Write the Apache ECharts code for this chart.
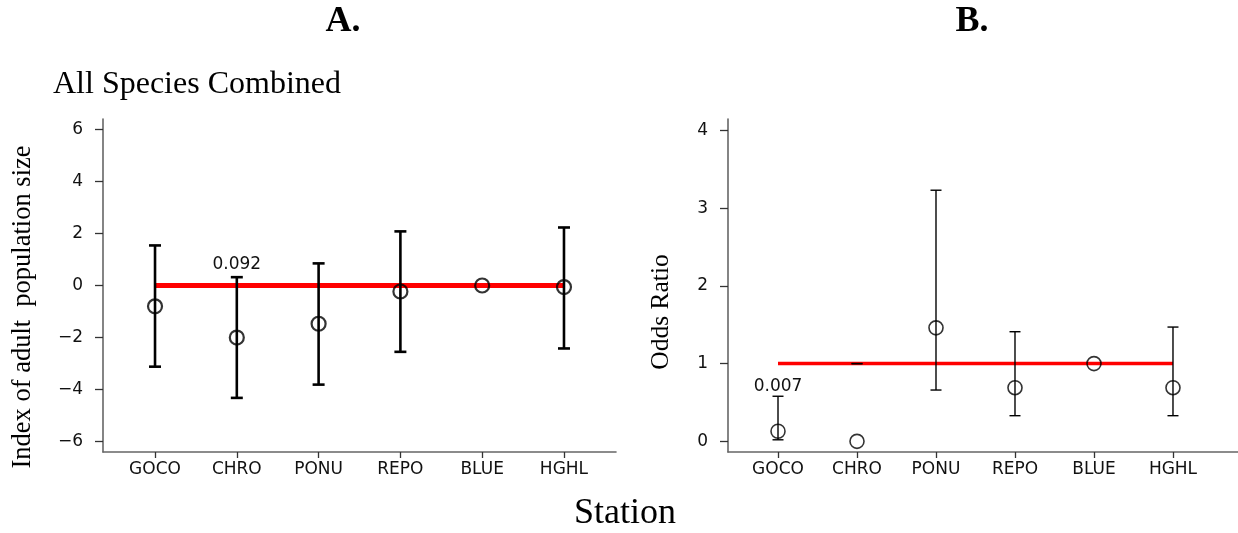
<!DOCTYPE html>
<html>
<head>
<meta charset="utf-8">
<script src="https://cdn.jsdelivr.net/npm/echarts@6/dist/echarts.min.js"></script>
<style>
html,body{margin:0;padding:0;background:#fff;}
#c{width:1238px;height:533px;}
</style>
</head>
<body>
<div id="c"></div>
<script>
const stations = ['GOCO', 'CHRO', 'PONU', 'REPO', 'BLUE', 'HGHL'];
// Panel A: index of adult population size
const indexMean = [-0.80, -2.00, -1.47, -0.23, 0.00, -0.06];
const indexLow  = [-3.12, -4.32, -3.81, -2.55, null, -2.42];
const indexHigh = [1.54, 0.32, 0.85, 2.08, null, 2.23];
const indexPLabels = ['', '0.092', '', '', '', ''];
const indexRef = 0;
const indexTicks = [-6, -4, -2, 0, 2, 4, 6];
// Panel B: odds ratio
const oddsMean = [0.13, 0.00, 1.46, 0.69, 1.00, 0.69];
const oddsLow  = [0.02, 1.00, 0.66, 0.33, null, 0.33];
const oddsHigh = [0.58, 1.00, 3.23, 1.41, null, 1.47];
const oddsPLabels = ['0.007', '', '', '', '', ''];
const oddsRef = 1;
const oddsTicks = [0, 1, 2, 3, 4];

const stationPos = stations.map((s, i) => i + 1);
const tickFont = '"DejaVu Sans", sans-serif';
const serif = '"Liberation Serif", "Times New Roman", serif';

function errRender(lw, cap, labelDy, labels) {
  return function (params, api) {
    const x = api.value(0), lo = api.value(1), hi = api.value(2);
    if (isNaN(lo) || isNaN(hi)) return {type: 'group', children: []};
    const pl = api.coord([x, lo]), ph = api.coord([x, hi]);
    const st = {stroke: '#000', lineWidth: lw};
    const ch = [
      {type: 'line', shape: {x1: pl[0], y1: pl[1], x2: ph[0], y2: ph[1]}, style: st},
      {type: 'line', shape: {x1: ph[0] - cap, y1: ph[1], x2: ph[0] + cap, y2: ph[1]}, style: st},
      {type: 'line', shape: {x1: pl[0] - cap, y1: pl[1], x2: pl[0] + cap, y2: pl[1]}, style: st}
    ];
    const t = labels[params.dataIndex];
    if (t) {
      ch.push({type: 'text', x: ph[0], y: ph[1] + labelDy,
        style: {text: t, align: 'center', verticalAlign: 'middle', fill: '#111',
          font: '17px ' + tickFont}});
    }
    return {type: 'group', children: ch};
  };
}

function xAxisFor(gi, min, max) {
  return {
    type: 'value', gridIndex: gi, min: min, max: max,
    splitLine: {show: false},
    axisLine: {show: true, onZero: false, lineStyle: {color: '#666', width: 1.6}},
    axisTick: {show: true, length: 6, customValues: stationPos, lineStyle: {color: '#333', width: 1.3}},
    axisLabel: {customValues: stationPos, margin: 9, color: '#111', fontFamily: tickFont, fontSize: 17,
      formatter: v => stations[Math.round(v) - 1] || ''}
  };
}
function yAxisFor(gi, min, max, ticks) {
  return {
    type: 'value', gridIndex: gi, min: min, max: max,
    splitLine: {show: false},
    axisLine: {show: true, onZero: false, lineStyle: {color: '#666', width: 1.6}},
    axisTick: {show: true, length: 8, customValues: ticks, lineStyle: {color: '#333', width: 1.3}},
    axisLabel: {customValues: ticks, margin: 20, color: '#111', fontFamily: tickFont, fontSize: 17,
      formatter: v => String(v).replace('-', '\u2212')}
  };
}

const chart = echarts.init(document.getElementById('c'), null, {renderer: 'canvas'});
chart.setOption({
  animation: false,
  backgroundColor: '#fff',
  grid: [
    {left: 103, top: 119, width: 513, height: 333},
    {left: 728, top: 119, width: 510, height: 333}
  ],
  xAxis: [xAxisFor(0, 0.364, 6.636), xAxisFor(1, 0.367, 6.823)],
  yAxis: [yAxisFor(0, -6.4, 6.4, indexTicks), yAxisFor(1, -0.137, 4.146, oddsTicks)],
  series: [
    {type: 'line', xAxisIndex: 0, yAxisIndex: 0, z: 1, symbol: 'none',
      lineStyle: {color: '#ff0000', width: 5},
      data: [[stationPos[0], indexRef], [stationPos[stationPos.length - 1], indexRef]]},
    {type: 'custom', xAxisIndex: 0, yAxisIndex: 0, z: 2,
      renderItem: errRender(2.6, 6, -12.5, indexPLabels),
      data: stationPos.map((p, i) => [p, indexLow[i], indexHigh[i]])},
    {type: 'scatter', xAxisIndex: 0, yAxisIndex: 0, z: 3, symbol: 'circle', symbolSize: 14,
      itemStyle: {color: 'rgba(0,0,0,0)', borderColor: '#000', borderWidth: 2.2},
      data: stationPos.map((p, i) => [p, indexMean[i]])},

    {type: 'line', xAxisIndex: 1, yAxisIndex: 1, z: 1, symbol: 'none',
      lineStyle: {color: '#ff0000', width: 3.5},
      data: [[stationPos[0], oddsRef], [stationPos[stationPos.length - 1], oddsRef]]},
    {type: 'custom', xAxisIndex: 1, yAxisIndex: 1, z: 2,
      renderItem: errRender(1.4, 5.5, -10, oddsPLabels),
      data: stationPos.map((p, i) => [p, oddsLow[i], oddsHigh[i]])},
    {type: 'scatter', xAxisIndex: 1, yAxisIndex: 1, z: 3, symbol: 'circle', symbolSize: 14,
      itemStyle: {color: 'rgba(0,0,0,0)', borderColor: '#000', borderWidth: 1.6},
      data: stationPos.map((p, i) => [p, oddsMean[i]])}
  ],
  graphic: [
    {type: 'text', x: 343, y: 22, style: {text: 'A.', align: 'center', verticalAlign: 'middle',
      font: 'bold 36px ' + serif, fill: '#000'}},
    {type: 'text', x: 972, y: 22, style: {text: 'B.', align: 'center', verticalAlign: 'middle',
      font: 'bold 36px ' + serif, fill: '#000'}},
    {type: 'text', x: 53, y: 85, style: {text: 'All Species Combined', align: 'left', verticalAlign: 'middle',
      font: '32px ' + serif, fill: '#000'}},
    {type: 'text', x: 23, y: 307, rotation: Math.PI / 2, style: {text: 'Index of adult  population size',
      align: 'center', verticalAlign: 'middle', font: '26.5px ' + serif, fill: '#000'}},
    {type: 'text', x: 661, y: 312, rotation: Math.PI / 2, style: {text: 'Odds Ratio',
      align: 'center', verticalAlign: 'middle', font: '25.5px ' + serif, fill: '#000'}},
    {type: 'text', x: 625, y: 514, style: {text: 'Station', align: 'center', verticalAlign: 'middle',
      font: '36px ' + serif, fill: '#000'}}
  ]
});
</script>
</body>
</html>
